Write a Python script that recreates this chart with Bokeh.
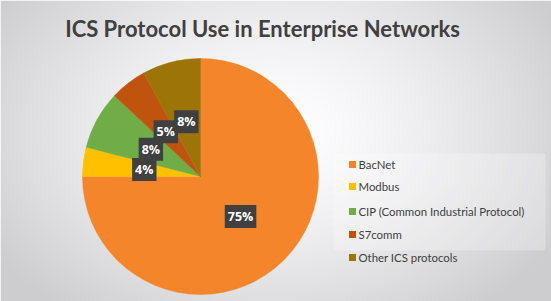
import numpy as np
from bokeh.plotting import figure
from bokeh.models import Range1d, ColumnDataSource
from bokeh.core.properties import value
from bokeh.embed import file_html
from bokeh.resources import INLINE

# ---- data ----
categories = ["BacNet", "Modbus", "CIP (Common Industrial Protocol)", "S7comm", "Other ICS protocols"]
shares = [75, 4, 8, 5, 8]
colors = ["#F5852A", "#FFC000", "#70AD47", "#C0540F", "#9C7408"]
title_text = "ICS Protocol Use in Enterprise Networks"

W, H = 551, 301
p = figure(width=W, height=H, output_backend="svg", toolbar_location=None,
           x_range=Range1d(0, W), y_range=Range1d(0, H), min_border=0)
p.axis.visible = False
p.grid.visible = False
p.outline_line_color = None
p.background_fill_color = "#ffffff"
p.border_fill_color = "#d6d6d8"

# background radial gradient
xx, yy = np.meshgrid(np.arange(W) + 0.5, np.arange(H) + 0.5)
d = np.sqrt(((xx - 270) / 330.0) ** 2 + ((yy - 170) / 230.0) ** 2)
d = np.clip(d, 0, 1)
g = 255 - 50 * d ** 1.4
img = np.zeros((H, W), dtype=np.uint32)
view = img.view(dtype=np.uint8).reshape((H, W, 4))
view[:, :, 0] = g.astype(np.uint8)
view[:, :, 1] = g.astype(np.uint8)
view[:, :, 2] = np.clip(g + 2, 0, 255).astype(np.uint8)
view[:, :, 3] = 255
p.image_rgba(image=[img], x=0, y=0, dw=W, dh=H)

# pie
cx, cy, R = 200, H - 176, 118
vals = np.array(shares, dtype=float)
cum = np.cumsum(vals) / vals.sum()
prev = np.concatenate([[0], cum[:-1]])
start = np.pi / 2 - 2 * np.pi * prev
end = np.pi / 2 - 2 * np.pi * cum
mid = (start + end) / 2
src = ColumnDataSource(dict(start=start, end=end, color=colors,
                            lx=cx + 0.48 * R * np.cos(mid), ly=cy + 0.48 * R * np.sin(mid),
                            lab=[f"{v}%" for v in shares]))
p.wedge(x=cx, y=cy, radius=R, start_angle="start", end_angle="end", direction="clock",
        fill_color="color", line_color="color", line_width=0.5, source=src)

# data labels
p.text(x="lx", y="ly", text="lab", source=src, text_color="#ffffff",
       text_font=value("Open Sans"), text_font_style="bold", text_font_size="12.5px",
       text_align="center", text_baseline="middle",
       background_fill_color="#404040", padding=3)

# title
p.text(x=[262], y=[H - 28], text=[title_text], text_color="#404040",
       text_font=value("Lato"), text_font_style="bold", text_font_size="22px",
       text_align="center", text_baseline="middle")

# legend
p.quad(left=[333], right=[545], bottom=[H - 250], top=[H - 153],
       fill_color="#ffffff", fill_alpha=0.25, line_color=None)
ly0 = [164, 186, 211, 234, 257]
leg = ColumnDataSource(dict(y=[H - v for v in ly0], t=categories, c=colors))
p.scatter(x=352, y="y", marker="square", size=7, fill_color="c", line_color=None, source=leg)
p.text(x=358, y="y", text="t", source=leg, text_color="#404040",
       text_font=value("Lato"), text_font_size="11.4px",
       text_align="left", text_baseline="middle")

open("out.html", "w").write(file_html(p, INLINE))
